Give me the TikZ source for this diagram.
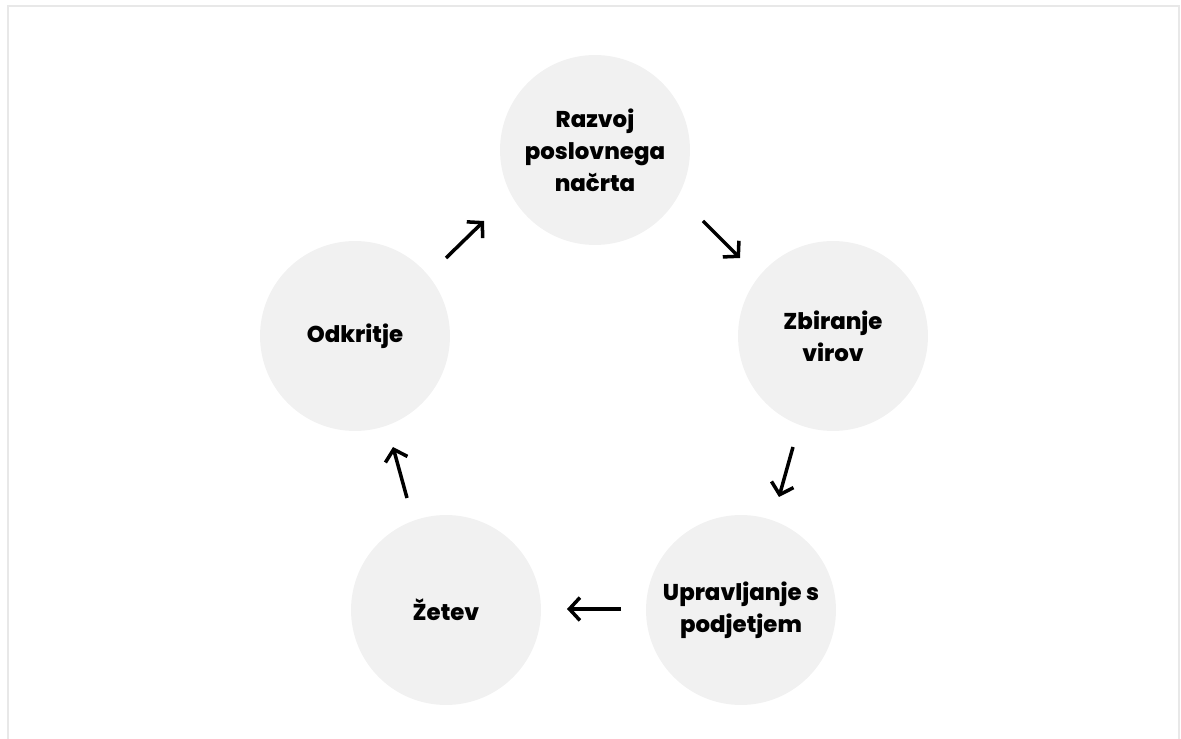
\documentclass[tikz,border=0pt]{standalone}
\usepackage{fontspec}
\setmainfont{Poppins}[UprightFont={* ExtraBold}, BoldFont={* ExtraBold}]
\usetikzlibrary{arrows.meta}
\definecolor{framegray}{RGB}{232,232,232}
\definecolor{stagegray}{RGB}{241,241,241}
\tikzstyle{arrow} = [line width=2pt, -{Straight Barb[length=6pt, width=13pt]}]
\tikzstyle{stage} = [circle, fill=stagegray, minimum size=3.8cm, inner sep=0pt,
text centered, align=center, font=\fontsize{13}{18.2}\selectfont]

\begin{document}
\begin{tikzpicture}[x=0.02cm, y=-0.02cm]
    \useasboundingbox (0,0) rectangle (1181,739);
    % Frame
    \draw[framegray, line width=1.1pt] (8,739) -- (8,6) -- (1179,6) -- (1179,739);

    % Nodes
    \node[stage] (plan)   at (595, 150) {Razvoj\\ poslovnega\\ načrta};
    \node[stage] (source) at (833, 336) {Zbiranje\\ virov};
    \node[stage] (manage) at (741, 610) {Upravljanje s\\ podjetjem};
    \node[stage] (harvest) at (446, 610) {Žetev};
    \node[stage] (discover) at (355, 336) {Odkritje};

    % Arrows
    \coordinate (a1s) at (446, 258); \coordinate (a1e) at (484, 221);
    \coordinate (a2s) at (703, 221); \coordinate (a2e) at (740, 258);
    \coordinate (a3s) at (793, 447); \coordinate (a3e) at (779, 497);
    \coordinate (a4s) at (621, 609); \coordinate (a4e) at (567, 609);
    \coordinate (a5s) at (407, 498); \coordinate (a5e) at (393, 447);
    \draw[arrow] (a1s) -- (a1e);
    \draw[arrow] (a2s) -- (a2e);
    \draw[arrow] (a3s) -- (a3e);
    \draw[arrow] (a4s) -- (a4e);
    \draw[arrow] (a5s) -- (a5e);

\end{tikzpicture}
\end{document}
